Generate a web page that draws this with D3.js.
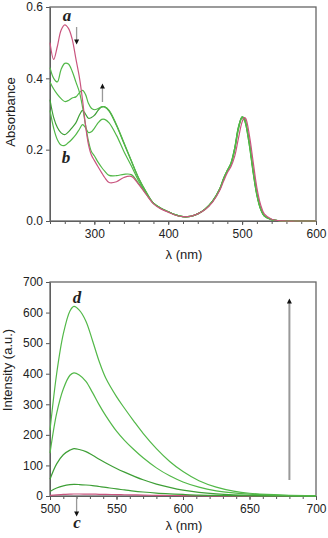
<!DOCTYPE html>
<meta charset="utf-8">
<html>
<head><title>absorbance and emission spectra</title>
<script src="https://cdn.jsdelivr.net/npm/d3@7"></script>
<style>
    body { margin: 0; background: #fff; }
    .frame { fill: none; stroke: #666; stroke-width: 1.3; }
    .axis path, .axis line { stroke: #555; }
    .axis text { font-family: "Liberation Sans", Arial, sans-serif; font-size: 12px; fill: #222; }
    .title { font-family: "Liberation Sans", Arial, sans-serif; font-size: 13px; fill: #222; }
    .tag { font-family: "Liberation Serif", "Times New Roman", serif; font-size: 17px; font-weight: bold; font-style: italic; fill: #222; }
    .spec { fill: none; stroke-width: 1.2; }
</style>
</head>
<body>
<div id="chart"></div>
<script>

// absorbance, UV part (same wavelength grid for every curve)
var uvWl = [240,245,250,255,260,265,270,275,280,284,288,292,296,300,305,310,314,320,330,340,350,360,370];
var absA  = [0.50,0.453,0.49,0.535,0.55,0.54,0.51,0.455,0.40,0.34,0.27,0.215,0.185,0.17,0.152,0.135,0.122,0.108,0.11,0.122,0.125,0.103,0.075];
var absG1 = [0.43,0.40,0.39,0.425,0.442,0.44,0.42,0.39,0.36,0.32,0.27,0.225,0.195,0.183,0.165,0.15,0.14,0.128,0.127,0.131,0.13,0.105,0.076];
var absG2 = [0.39,0.37,0.355,0.343,0.335,0.338,0.345,0.348,0.36,0.366,0.355,0.33,0.316,0.312,0.315,0.32,0.32,0.31,0.27,0.22,0.17,0.12,0.082];
var absG3 = [0.34,0.29,0.262,0.247,0.242,0.25,0.262,0.275,0.298,0.31,0.30,0.288,0.29,0.296,0.31,0.32,0.32,0.308,0.268,0.218,0.168,0.12,0.082];
var absB  = [0.31,0.26,0.228,0.213,0.212,0.22,0.23,0.242,0.258,0.27,0.262,0.248,0.25,0.26,0.275,0.285,0.285,0.275,0.24,0.195,0.155,0.112,0.078];

// absorbance, visible part
var visWl = [380,390,400,410,420,430,440,450,460,470,475,480,485,490,495,500,503,505,510,515,520,525,530,540,550,560,580,600];
var visA     = [0.048,0.034,0.025,0.016,0.012,0.013,0.02,0.032,0.053,0.087,0.112,0.135,0.153,0.182,0.232,0.278,0.29,0.287,0.238,0.165,0.093,0.046,0.02,0.005,0.001,0,0,0];
var visGreen = [0.05,0.036,0.026,0.017,0.012,0.013,0.02,0.033,0.055,0.09,0.118,0.14,0.16,0.2,0.258,0.29,0.283,0.27,0.21,0.135,0.072,0.033,0.014,0.004,0.001,0,0,0];
var visGreen2 = [0.05,0.036,0.026,0.017,0.012,0.013,0.02,0.034,0.056,0.092,0.12,0.142,0.163,0.205,0.263,0.292,0.288,0.276,0.218,0.142,0.077,0.036,0.015,0.004,0.001,0,0,0];

// emission
var emWl = [500,505,510,515,518,522,527,532,537,542,550,556,563,570,580,590,600,612,625,638,650,675,700];
var emD  = [215,400,530,605,620,608,572,508,440,385,325,287,245,205,155,113,80,50,29,16,9,3,1];
var emG2 = [140,270,350,395,403,396,375,338,298,262,212,182,152,125,92,66,46,29,17,10,6,2,0.5];
var emG3 = [55,105,135,150,155,152,145,133,120,108,90,78,65,53,39,28,19,12,7,4,2.5,1,0.3];
var emG4 = [15,26,33,37,38,37.5,36,34,31,28,23,20,16,13,9.5,7,5,3,2,1.2,0.8,0.3,0];
var emC  = [2,4,5,6,6.5,6.5,6.3,6,5.6,5.2,4.6,4.1,3.6,3,2.3,1.7,1.3,0.8,0.5,0.3,0.2,0.1,0];

var absTicks = [0.0, 0.2, 0.4, 0.6];
var absXTicks = [300, 400, 500, 600];
var emTicks = [0, 100, 200, 300, 400, 500, 600, 700];
var emXTicks = [500, 550, 600, 650, 700];

var pink = "#c9557f", green = "#52b848", green2 = "#3e9f36";

var W = 328, H = 538;
var svg = d3.select("#chart").append("svg").attr("width", W).attr("height", H);

var defs = svg.append("defs");
defs.append("marker").attr("id", "head")
    .attr("viewBox", "0 0 10 10").attr("refX", 5).attr("refY", 5)
    .attr("markerUnits", "userSpaceOnUse")
    .attr("markerWidth", 6).attr("markerHeight", 5).attr("orient", "auto")
    .append("path").attr("d", "M0,0L10,5L0,10z").attr("fill", "#111");

function zip(xs, ys) { return xs.map(function(x, i) { return [x, ys[i]]; }); }

function panel(y0, xDom, yDom, xTicks, yTicks, yFmt, minorStep) {
    var x = d3.scaleLinear().domain(xDom).range([50, 316]);
    var y = d3.scaleLinear().domain(yDom).range([y0 + 214, y0]);
    var g = svg.append("g");
    // minor ticks
    g.append("g").attr("class", "axis").attr("transform", "translate(0," + (y0 + 214) + ")")
        .call(d3.axisBottom(x).tickValues(d3.range(xDom[0], xDom[1] + 0.01, minorStep)).tickSize(3).tickFormat(""))
        .select(".domain").remove();
    g.append("g").attr("class", "axis").attr("transform", "translate(0," + (y0 + 214) + ")")
        .call(d3.axisBottom(x).tickValues(xTicks).tickSize(4).tickPadding(4).tickSizeOuter(0));
    g.append("g").attr("class", "axis").attr("transform", "translate(50,0)")
        .call(d3.axisLeft(y).tickValues(yTicks).tickFormat(yFmt).tickSize(4).tickPadding(3).tickSizeOuter(0));
    g.append("rect").attr("class", "frame")
        .attr("x", 50).attr("y", y0).attr("width", 266).attr("height", 214);
    var line = d3.line().x(function(d) { return x(d[0]); }).y(function(d) { return y(d[1]); })
        .curve(d3.curveCatmullRom.alpha(0.5));
    return { x: x, y: y, g: g, line: line };
}

// ---- top: absorbance
var absP = panel(7, [240, 600], [0, 0.6], absXTicks, absTicks, d3.format(".1f"), 20);
var uvSets = [[absB, green, visGreen], [absG3, green2, visGreen2], [absG2, green, visGreen], [absG1, green, visGreen2], [absA, pink, visA]];
uvSets.forEach(function(s) {
    var pts = zip(uvWl, s[0]).concat(zip(visWl, s[2]));
    absP.g.append("path").attr("class", "spec").attr("stroke", s[1]).attr("d", absP.line(pts));
});

svg.append("text").attr("class", "title").attr("text-anchor", "middle")
    .attr("transform", "translate(15,112) rotate(-90)").text("Absorbance");
svg.append("text").attr("class", "title").attr("text-anchor", "middle")
    .attr("x", 184).attr("y", 259).text("λ (nm)");
svg.append("text").attr("class", "tag").attr("text-anchor", "middle").attr("x", 67).attr("y", 21).text("a");
svg.append("text").attr("class", "tag").attr("text-anchor", "middle").attr("x", 66).attr("y", 163).text("b");

function arrow(x1, y1, x2, y2, w) {
    svg.append("line").attr("x1", x1).attr("y1", y1).attr("x2", x2).attr("y2", y2)
        .attr("stroke", "#999").attr("stroke-width", w).attr("marker-end", "url(#head)");
}
arrow(absP.x(276), 27, absP.x(276), 42, 1.3);
arrow(absP.x(311), 102, absP.x(311), 86, 1.3);

// ---- bottom: emission
var emP = panel(282, [500, 700], [0, 700], emXTicks, emTicks, d3.format("d"), 10);
[[emC, pink], [emG4, green2], [emG3, green2], [emG2, green], [emD, green]].forEach(function(s) {
    emP.g.append("path").attr("class", "spec").attr("stroke", s[1]).attr("d", emP.line(zip(emWl, s[0])));
});

svg.append("text").attr("class", "title").attr("text-anchor", "middle")
    .attr("transform", "translate(12,370) rotate(-90)").text("Intensity (a.u.)");
svg.append("text").attr("class", "title").attr("text-anchor", "middle")
    .attr("x", 184).attr("y", 530).text("λ (nm)");
svg.append("text").attr("class", "tag").attr("text-anchor", "middle").attr("x", 77).attr("y", 303).text("d");
svg.append("text").attr("class", "tag").attr("text-anchor", "middle").attr("x", 77).attr("y", 528).text("c");

arrow(emP.x(520), 497, emP.x(520), 514, 1.3);
arrow(emP.x(680), 480, emP.x(680), 301, 2);

</script>
</body>
</html>
